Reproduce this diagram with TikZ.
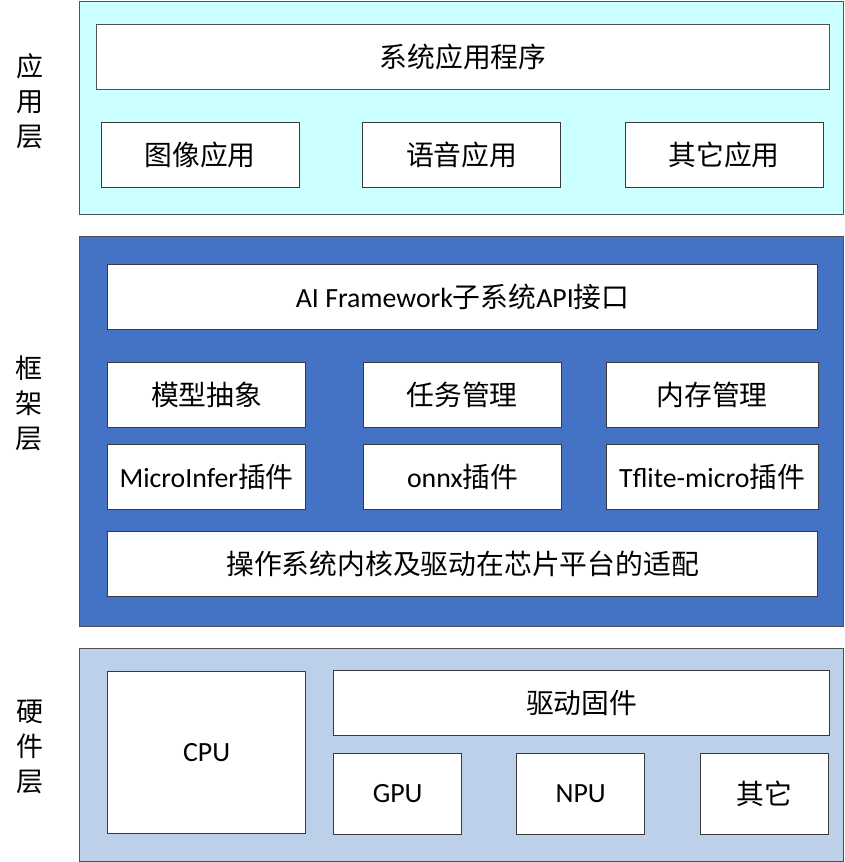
\documentclass[tikz,border=0pt]{standalone}
\usepackage{fontspec}
\setmainfont{Noto Sans CJK SC}
\newfontfamily\lat{Carlito}
\definecolor{appfill}{HTML}{CCFFFF}
\definecolor{fwfill}{HTML}{4472C4}
\definecolor{hwfill}{HTML}{BCD0E9}
\definecolor{outerline}{HTML}{505050}
\definecolor{innerline}{HTML}{3A3A3A}
\begin{document}
\begin{tikzpicture}[x=1pt,y=-1pt,
  layer/.style={draw=outerline, line width=1.2pt, anchor=north west, inner sep=0pt},
  abox/.style={draw=innerline, fill=white, line width=1.3pt, anchor=north west, inner sep=0pt,
    font=\fontsize{27.8}{30}\selectfont},
  latbox/.style={abox, font=\lat\fontsize{27.8}{30}\selectfont},
  side/.style={align=center, font=\fontsize{27}{35}\selectfont, inner sep=0pt}]
\useasboundingbox (0,0) rectangle (845,862);
% layers
\node[layer, fill=appfill, minimum width=764, minimum height=213] (app) at (79,1) {};
\node[layer, fill=fwfill, minimum width=764, minimum height=390] (fw) at (79,236) {};
\node[layer, fill=hwfill, minimum width=764, minimum height=213] (hw) at (79,647.5) {};
% side labels
\node[side] (lapp) at (30,101) {应\\用\\层};
\node[side] (lfw) at (29,403) {框\\架\\层};
\node[side] (lhw) at (30,747) {硬\\件\\层};
% application layer
\node[abox, draw=outerline, minimum width=733, minimum height=65] (sysapp) at (96,24) {系统应用程序};
\node[abox, minimum width=198, minimum height=65] (img) at (100.5,122) {图像应用};
\node[abox, minimum width=198, minimum height=65] (voice) at (362,122) {语音应用};
\node[abox, minimum width=198, minimum height=65] (otherapp) at (624.5,122) {其它应用};
% framework layer
\node[abox, minimum width=710, minimum height=65] (api) at (107,264) {{\lat AI Framework}子系统{\lat API}接口};
\node[abox, minimum width=198, minimum height=65] (model) at (107,362) {模型抽象};
\node[abox, minimum width=198, minimum height=65] (task) at (362.5,362) {任务管理};
\node[abox, minimum width=212, minimum height=65] (mem) at (605.5,362) {内存管理};
\node[abox, minimum width=198, minimum height=65] (mi) at (107,444) {{\lat MicroInfer}插件};
\node[abox, minimum width=198, minimum height=65] (onnx) at (363,444) {{\lat onnx}插件};
\node[abox, minimum width=212, minimum height=65] (tfl) at (605.5,444) {{\lat Tflite-micro}插件};
\node[abox, minimum width=710, minimum height=65] (os) at (107,530.5) {操作系统内核及驱动在芯片平台的适配};
% hardware layer
\node[latbox, minimum width=198, minimum height=162] (cpu) at (107,671) {CPU};
\node[abox, minimum width=496, minimum height=65] (drv) at (333,670) {驱动固件};
\node[latbox, minimum width=128, minimum height=81] (gpu) at (333,752.5) {GPU};
\node[latbox, minimum width=128, minimum height=81] (npu) at (516,752.5) {NPU};
\node[abox, minimum width=128, minimum height=81] (other) at (699.5,752.5) {其它};
\end{tikzpicture}
\end{document}
